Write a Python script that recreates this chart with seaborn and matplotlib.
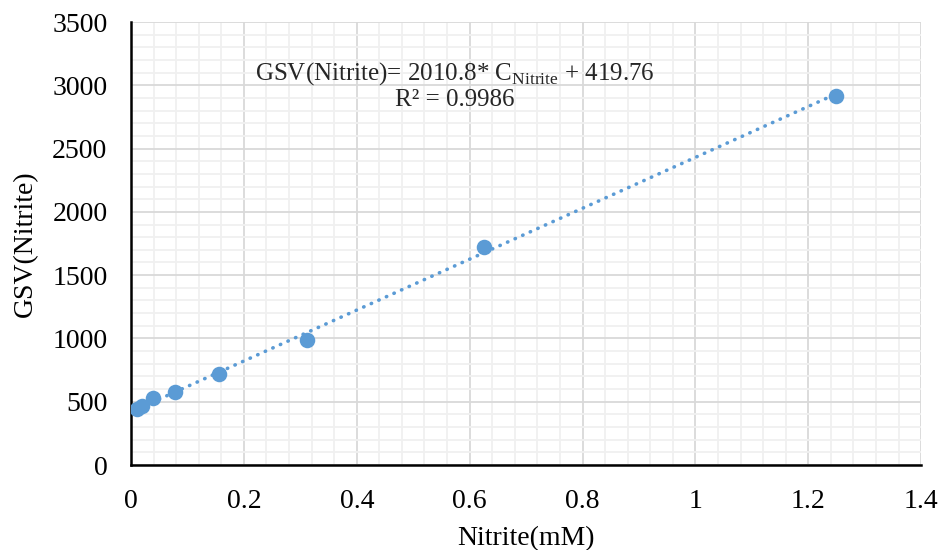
import numpy as np
import pandas as pd
import matplotlib
matplotlib.use('Agg')
import matplotlib.pyplot as plt
import seaborn as sns
from matplotlib.ticker import MultipleLocator

# Calibration data
nitrite_mM = [0.0098, 0.0195, 0.039, 0.078, 0.156, 0.3125, 0.625, 1.25]
gsv_nitrite = [440, 465, 528, 578, 718, 990, 1725, 2915]

# Trendline coefficients shown on the chart
slope = 2010.8
intercept = 419.76
r_squared = 0.9986

df = pd.DataFrame({'Nitrite(mM)': nitrite_mM, 'GSV(Nitrite)': gsv_nitrite})

sns.set_style('white')
plt.rcParams['font.family'] = ['Liberation Serif', 'DejaVu Serif']
plt.rcParams['mathtext.fontset'] = 'custom'
plt.rcParams['mathtext.rm'] = 'Liberation Serif'

blue = '#5B9BD5'

fig = plt.figure(figsize=(9.39, 5.5), dpi=100)
ax = fig.add_axes([0.1395, 0.1545, 0.8415, 0.8055])

# grid first so the data sits on top
ax.set_axisbelow(True)
ax.xaxis.set_major_locator(MultipleLocator(0.2))
ax.xaxis.set_minor_locator(MultipleLocator(0.04))
ax.yaxis.set_major_locator(MultipleLocator(500))
ax.yaxis.set_minor_locator(MultipleLocator(100))
ax.grid(which='minor', color='#F0F0F0', linewidth=1.3)
ax.grid(which='major', color='#D9D9D9', linewidth=1.3)

# linear trendline from the fitted coefficients
x_fit = np.array([min(nitrite_mM), max(nitrite_mM)])
fit_df = pd.DataFrame({'x': x_fit, 'y': slope * x_fit + intercept})
sns.lineplot(data=fit_df, x='x', y='y', ax=ax, color=blue, linewidth=2.6,
             dashes=False)
line = ax.lines[-1]
line.set_dashes((0.1, 2.2))
line.set_dash_capstyle('round')

sns.scatterplot(data=df, x='Nitrite(mM)', y='GSV(Nitrite)', ax=ax,
                color=blue, s=125, edgecolor=blue, linewidth=0, zorder=3)

ax.set_xlim(0, 1.4)
ax.set_ylim(0, 3500)
ax.set_xticks([0, 0.2, 0.4, 0.6, 0.8, 1.0, 1.2, 1.4])
ax.set_xticklabels(['0', '0.2', '0.4', '0.6', '0.8', '1', '1.2', '1.4'])

for side in ['top', 'right']:
    ax.spines[side].set_visible(False)
for side in ['left', 'bottom']:
    ax.spines[side].set_color('black')
    ax.spines[side].set_linewidth(1.8)

ax.tick_params(which='major', direction='out', length=6, width=1.5,
               color='black', labelsize=20, labelcolor='black')
ax.tick_params(axis='y', pad=11)
ax.tick_params(axis='x', pad=11)
ax.tick_params(which='minor', length=0)

ax.set_xlabel('Nitrite(mM)', fontsize=20, color='black', labelpad=9)
ax.set_ylabel('GSV(Nitrite)', fontsize=20, color='black', labelpad=10)

ax.text(0.41, 0.884,
        r'GSV(Nitrite)= 2010.8* C$_{\mathrm{Nitrite}}$ + 419.76',
        transform=ax.transAxes, ha='center', va='center', fontsize=18)
ax.text(0.41, 0.823, 'R² = 0.9986',
        transform=ax.transAxes, ha='center', va='center', fontsize=18)

fig.savefig('out.png', dpi=100)
